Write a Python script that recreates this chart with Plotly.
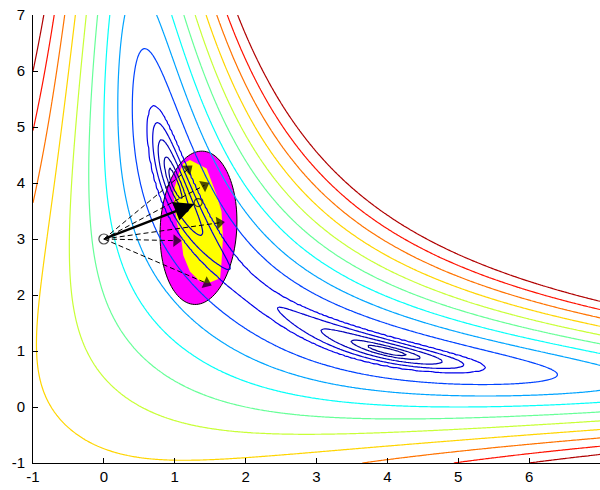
import numpy as np
import plotly.graph_objects as go

# ---------------- data ----------------
tick_vals = [-1, 0, 1, 2, 3, 4, 5, 6, 7]
tick_text = ["-1", "0", "1", "2", "3", "4", "5", "6", "7"]

# objective surface: f(x, y) = (x*y - prod_target)^2 + (x + y - sum_target)^2
prod_target = 4.0
sum_target = 5.0
# contour levels, expressed on sqrt(f)
level_sqrt = [0.2, 0.35, 0.6, 0.85, 1.1, 2, 3, 4, 5, 6, 7, 8, 9, 10]
color_top = 10.5

# search step
start_x, start_y = 0.0, 3.0
mean_x, mean_y = 1.33, 3.65
sample_x = [1.19, 1.42, 1.63, 1.02, 1.45]
sample_y = [4.25, 3.96, 3.29, 2.97, 2.21]

# search ellipse
ell_cx, ell_cy = 1.335, 3.20
ell_a, ell_b = 0.54, 1.37
ell_tilt = -0.04

# accepted-sample region
region_x = [1.214, 1.45, 1.59, 1.66, 1.68, 1.66, 1.64, 1.47, 1.355, 1.214,
            1.12, 1.097, 1.027, 1.003, 0.979, 1.05, 1.12]
region_y = [4.41, 4.26, 3.79, 3.49, 3.02, 2.59, 2.30, 2.21, 2.24, 2.42,
            2.71, 2.95, 3.31, 3.55, 3.84, 4.14, 4.35]

# ---------------- surface ----------------
gx = np.linspace(-1, 7, 241)
gy = np.linspace(-1, 7, 241)
X, Y = np.meshgrid(gx, gy)
F = (X * Y - prod_target) ** 2 + (X + Y - sum_target) ** 2
S = np.sqrt(F)
n_lev = len(level_sqrt)
xp = np.concatenate([[0.0], level_sqrt, [level_sqrt[-1] + 100.0]])
fp = np.concatenate([[-1.0], np.arange(n_lev, dtype=float), [n_lev - 1 + 100.0]])
Z = np.interp(S, xp, fp)


def jet(t):
    t = float(np.clip(t, 0, 1))
    r = np.clip(1.5 - abs(4 * t - 3), 0, 1)
    g = np.clip(1.5 - abs(4 * t - 2), 0, 1)
    b = np.clip(1.5 - abs(4 * t - 1), 0, 1)
    return "rgb(%d,%d,%d)" % (round(r * 255), round(g * 255), round(b * 255))


colorscale = [[k / (n_lev - 1), jet(level_sqrt[k] / color_top)] for k in range(n_lev)]

fig = go.Figure()
fig.add_trace(go.Contour(
    x=gx, y=gy, z=Z,
    contours=dict(coloring="lines", start=0, end=n_lev - 1, size=1, showlabels=False),
    line=dict(width=1.2),
    colorscale=colorscale, zmin=0, zmax=n_lev - 1,
    showscale=False, hoverinfo="skip",
))

# ellipse and region as shapes below the contour lines
t = np.linspace(0, 2 * np.pi, 121)
ex = ell_cx + ell_a * np.cos(t) * np.cos(ell_tilt) - ell_b * np.sin(t) * np.sin(ell_tilt)
ey = ell_cy + ell_a * np.cos(t) * np.sin(ell_tilt) + ell_b * np.sin(t) * np.cos(ell_tilt)
ell_path = "M " + " L ".join("%.4f,%.4f" % (a, b) for a, b in zip(ex, ey)) + " Z"
reg_path = "M " + " L ".join("%.4f,%.4f" % (a, b) for a, b in zip(region_x, region_y)) + " Z"

shapes = [
    dict(type="path", path=ell_path, xref="x", yref="y", layer="below",
         fillcolor="#FF00FF", line=dict(color="black", width=1)),
    dict(type="path", path=reg_path, xref="x", yref="y", layer="below",
         fillcolor="#FFFF00", line=dict(width=0)),
]

# dashed sample lines with arrowheads at their ends
for sx, sy in zip(sample_x, sample_y):
    fig.add_trace(go.Scatter(x=[start_x, sx], y=[start_y, sy], mode="lines",
                             line=dict(color="black", width=1, dash="5px,3px"),
                             hoverinfo="skip", showlegend=False))
    fig.add_trace(go.Scatter(x=[start_x, sx], y=[start_y, sy], mode="markers",
                             marker=dict(symbol="triangle-up", size=[0, 11], angleref="previous",
                                         color="black", line=dict(width=0)),
                             hoverinfo="skip", showlegend=False))

# circles
fig.add_trace(go.Scatter(x=[start_x, mean_x], y=[start_y, mean_y], mode="markers",
                         marker=dict(symbol="circle-open", size=[10, 8],
                                     color="black", line=dict(width=1.2)),
                         hoverinfo="skip", showlegend=False))

annotations = [dict(x=mean_x, y=mean_y, ax=start_x, ay=start_y,
                    xref="x", yref="y", axref="x", ayref="y", text="",
                    showarrow=True, arrowhead=2, arrowsize=1.6, arrowwidth=2.5,
                    arrowcolor="black", standoff=4)]

axis_common = dict(
    range=[-1, 7], tickvals=tick_vals, ticktext=tick_text,
    ticks="inside", ticklen=5, tickcolor="black", tickwidth=1,
    showline=True, linecolor="black", linewidth=1, mirror=False,
    showgrid=False, zeroline=False, automargin=False,
    tickfont=dict(family="Liberation Sans", size=15, color="black"),
)

fig.update_layout(
    width=600, height=490,
    margin=dict(l=33, r=0, t=15, b=27),
    paper_bgcolor="white", plot_bgcolor="white",
    xaxis=dict(axis_common),
    yaxis=dict(axis_common, ticklabelstandoff=4),
    shapes=shapes, annotations=annotations, showlegend=False,
)

fig.write_html("out.html", config={"displayModeBar": False},
               post_script="document.body.style.margin='0';document.body.style.overflow='hidden';")
